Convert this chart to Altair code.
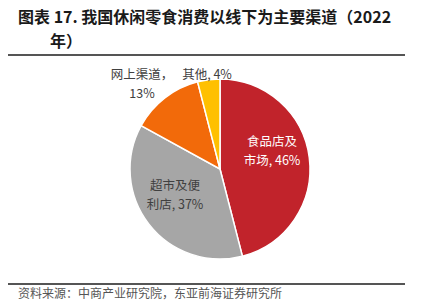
import altair as alt
import pandas as pd

# ---- data ----
categories = ["食品店及市场", "超市及便利店", "网上渠道", "其他"]
shares = [46, 37, 13, 4]
colors = ["#C1232B", "#A6A6A6", "#F26A0A", "#FFC000"]

title_line1 = "图表 17. 我国休闲零食消费以线下为主要渠道（2022"
title_line2 = "年）"
source_text = "资料来源：中商产业研究院，东亚前海证券研究所"

FONT = "Noto Sans CJK SC"

df = pd.DataFrame({"category": categories, "share": shares, "order": list(range(len(categories)))})
one = pd.DataFrame({"a": [0]})

pie = alt.Chart(df).mark_arc(outerRadius=90, stroke="white", strokeWidth=1.5).encode(
    theta=alt.Theta("share:Q", stack=True),
    order=alt.Order("order:Q"),
    color=alt.Color("category:N", scale=alt.Scale(domain=categories, range=colors), legend=None),
    x=alt.value(220),
    y=alt.value(169),
)

def txt(text, x, y, size=12.5, color="#404040", weight="normal", align="center"):
    return alt.Chart(one).mark_text(
        text=text, font=FONT, fontSize=size, color=color, fontWeight=weight,
        align=align, baseline="middle",
    ).encode(x=alt.value(x), y=alt.value(y))

layers = [
    pie,
    txt("食品店及", 272, 142, color="white"),
    txt(f"市场, {shares[0]}%", 272, 160.5, color="white"),
    txt("超市及便", 175, 186),
    txt(f"利店, {shares[1]}%", 175, 204.5),
    txt("网上渠道，", 142, 75),
    txt(f"{shares[2]}%", 142, 93.5),
    txt(f"其他, {shares[3]}%", 207, 75),
    txt(title_line1, 18, 18, size=16, color="#1a1a1a", weight="bold", align="left"),
    txt(title_line2, 50, 41.5, size=16, color="#1a1a1a", weight="bold", align="left"),
    txt(source_text, 18, 294, size=12, color="#555555", align="left"),
    alt.Chart(one).mark_rule(color="#555555", strokeWidth=2).encode(
        x=alt.value(8), x2=alt.value(405), y=alt.value(55)),
    alt.Chart(one).mark_rule(color="#555555", strokeWidth=2).encode(
        x=alt.value(8), x2=alt.value(405), y=alt.value(284)),
]

chart = alt.layer(*layers).properties(
    width=443, height=307, padding=0, autosize=alt.AutoSizeParams(type="none"),
    background="white",
).configure_view(stroke=None)

chart.save("out.html", embed_options={"renderer": "svg", "actions": False})
